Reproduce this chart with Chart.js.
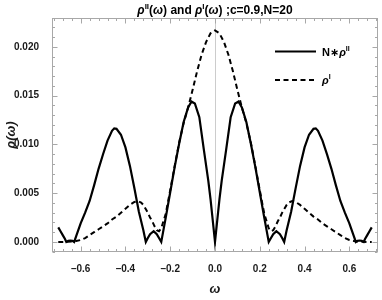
<!DOCTYPE html>
<html>
<head>
<meta charset="utf-8">
<script src="https://cdn.jsdelivr.net/npm/chart.js@4.4.0/dist/chart.umd.min.js"></script>
<style>
  html, body { margin: 0; padding: 0; background: #fff; }
</style>
</head>
<body>
<canvas id="canvas" width="382" height="300"></canvas>
<script>
"use strict"

/* N * rho^II (solid) */
let omegaII = [
    -0.70, -0.69, -0.68, -0.67, -0.664, -0.655, -0.646, -0.637, -0.629, -0.62,
    -0.60, -0.58, -0.56, -0.54, -0.52, -0.50, -0.48, -0.46, -0.45, -0.44,
    -0.42, -0.40, -0.38, -0.36, -0.34, -0.32, -0.309, -0.30, -0.29, -0.274,
    -0.26, -0.25, -0.24, -0.22, -0.20, -0.18, -0.16, -0.14, -0.12, -0.105,
    -0.09, -0.07, -0.05, -0.03, -0.02, -0.01, 0,
    0.01, 0.02, 0.03, 0.05, 0.07, 0.09, 0.105, 0.12, 0.14, 0.16,
    0.18, 0.20, 0.22, 0.24, 0.25, 0.26, 0.274, 0.29, 0.30, 0.309,
    0.32, 0.34, 0.36, 0.38, 0.40, 0.42, 0.44, 0.45, 0.46, 0.48,
    0.50, 0.52, 0.54, 0.56, 0.58, 0.60, 0.62, 0.629, 0.637, 0.646,
    0.655, 0.664, 0.67, 0.68, 0.69, 0.70
];
let nRhoII = [
    0.0015, 0.0011, 0.0007, 0.0003, 0, 0.00012, 0.00015, 0.00012, 0, 0.0006,
    0.0019, 0.0030, 0.0042, 0.0058, 0.0075, 0.0090, 0.0104, 0.0114, 0.01165, 0.0116,
    0.0110, 0.0097, 0.0078, 0.0055, 0.0031, 0.0012, 0, 0.0004, 0.0008, 0.0011,
    0.0008, 0.0004, 0, 0.0025, 0.0051, 0.0077, 0.0101, 0.0123, 0.0138, 0.0144,
    0.0142, 0.0128, 0.0095, 0.0063, 0.0044, 0.0022, 0,
    0.0022, 0.0044, 0.0063, 0.0095, 0.0128, 0.0142, 0.0144, 0.0138, 0.0123, 0.0101,
    0.0077, 0.0051, 0.0025, 0, 0.0004, 0.0008, 0.0011, 0.0008, 0.0004, 0,
    0.0012, 0.0031, 0.0055, 0.0078, 0.0097, 0.0110, 0.0116, 0.01165, 0.0114, 0.0104,
    0.0090, 0.0075, 0.0058, 0.0042, 0.0030, 0.0019, 0.0006, 0, 0.00012, 0.00015,
    0.00012, 0, 0.0003, 0.0007, 0.0011, 0.0015
];

/* rho^I (dashed) */
let omegaI = [
    -0.70, -0.68, -0.66, -0.64, -0.62, -0.60, -0.58, -0.56, -0.54, -0.52,
    -0.50, -0.48, -0.46, -0.44, -0.42, -0.40, -0.38, -0.36, -0.345, -0.33,
    -0.32, -0.31, -0.30, -0.29, -0.28, -0.27, -0.26, -0.25, -0.24, -0.22,
    -0.20, -0.18, -0.16, -0.14, -0.12, -0.10, -0.08, -0.06, -0.04, -0.02, 0,
    0.02, 0.04, 0.06, 0.08, 0.10, 0.12, 0.14, 0.16, 0.18, 0.20,
    0.22, 0.24, 0.25, 0.26, 0.27, 0.28, 0.29, 0.30, 0.31, 0.32,
    0.33, 0.345, 0.36, 0.38, 0.40, 0.42, 0.44, 0.46, 0.48, 0.50,
    0.52, 0.54, 0.56, 0.58, 0.60, 0.62, 0.64, 0.66, 0.68, 0.70
];
let rhoI = [
    0, 0, 0.00002, 0.00005, 0.0001, 0.0002, 0.0004, 0.0007, 0.0010, 0.0013,
    0.0016, 0.0019, 0.0023, 0.0026, 0.0030, 0.0034, 0.0038, 0.0041, 0.0042, 0.00405,
    0.0038, 0.0034, 0.0030, 0.0025, 0.0021, 0.0016, 0.0012, 0.0011, 0.0014, 0.0029,
    0.0053, 0.0078, 0.0102, 0.0122, 0.0138, 0.0156, 0.0175, 0.0192, 0.0205, 0.0214, 0.0217,
    0.0214, 0.0205, 0.0192, 0.0175, 0.0156, 0.0138, 0.0122, 0.0102, 0.0078, 0.0053,
    0.0029, 0.0014, 0.0011, 0.0012, 0.0016, 0.0021, 0.0025, 0.0030, 0.0034, 0.0038,
    0.00405, 0.0042, 0.0041, 0.0038, 0.0034, 0.0030, 0.0026, 0.0023, 0.0019, 0.0016,
    0.0013, 0.0010, 0.0007, 0.0004, 0.0002, 0.0001, 0.00005, 0.00002, 0, 0
];

/* Ticks */
let xTicks = [-0.6, -0.4, -0.2, 0, 0.2, 0.4, 0.6];
let xTickLabels = ["\u20130.6", "\u20130.4", "\u20130.2", "0.0", "0.2", "0.4", "0.6"];
let yTicks = [0, 0.005, 0.01, 0.015, 0.02];
let yTickLabels = ["0.000", "0.005", "0.010", "0.015", "0.020"];


/* Colors */
let black = "#000";
let frameGray = "#a8a8a8";
let axisGray = "#cccccc";
let labelColor = "#1a1a1a";

let fontFamily = "'Liberation Sans', Arial, 'DejaVu Sans', sans-serif";


function toPoints(xs, ys) {
    return xs.map((x, i) => ({ x: x, y: ys[i] }));
}

function labelFor(ticks, labels, v) {
    let i = ticks.findIndex(t => Math.abs(t - v) < 1e-9);
    return i < 0 ? "" : labels[i];
}

// draws text made of pieces: italic, superscript
function drawRich(ctx, parts, x, y, size, align) {
    let fontOf = p => (p.it ? "italic " : "") + "bold " +
        (p.sup ? Math.round(size * 0.66) : size) + "px " + fontFamily;
    let width = 0;
    parts.forEach(p => {
        ctx.font = fontOf(p);
        p.w = ctx.measureText(p.t).width;
        width += p.w;
    });
    let cx = align === "center" ? x - width / 2 : x;
    ctx.textAlign = "left";
    ctx.textBaseline = "alphabetic";
    parts.forEach(p => {
        ctx.font = fontOf(p);
        ctx.fillText(p.t, cx, p.sup ? y - size * 0.42 : y);
        cx += p.w;
    });
}

function minorValues(from, to, step) {
    let out = [];
    for (let v = from; v <= to + 1e-12; v += step) out.push(v);
    return out;
}


const framePlugin = {
    id: "frame",
    beforeDatasetsDraw(chart) {
        const { ctx, chartArea: a, scales: { x } } = chart;
        let x0 = Math.round(x.getPixelForValue(0)) + 0.5;
        ctx.save();
        ctx.strokeStyle = axisGray;
        ctx.lineWidth = 1;
        ctx.beginPath();
        ctx.moveTo(x0, a.top);
        ctx.lineTo(x0, a.bottom);
        ctx.stroke();
        ctx.restore();
    },
    afterDraw(chart) {
        const { ctx, chartArea: a, scales: { x, y } } = chart;
        ctx.save();
        ctx.strokeStyle = frameGray;
        ctx.lineWidth = 1;
        let L = Math.round(a.left) + 0.5, R = Math.round(a.right) - 0.5;
        let T = Math.round(a.top) + 0.5, B = Math.round(a.bottom) - 0.5;
        ctx.strokeRect(L, T, R - L, B - T);

        ctx.beginPath();
        let xMinor = minorValues(-0.72, 0.72, 0.04);
        xMinor.forEach(v => {
            let major = xTicks.some(t => Math.abs(t - v) < 1e-6);
            let len = major ? 5 : 2.5;
            let px = Math.round(x.getPixelForValue(v)) + 0.5;
            ctx.moveTo(px, B); ctx.lineTo(px, B - len);
            ctx.moveTo(px, T); ctx.lineTo(px, T + len);
        });
        let yMinor = minorValues(-0.001, 0.022, 0.001);
        yMinor.forEach(v => {
            let major = yTicks.some(t => Math.abs(t - v) < 1e-6);
            let len = major ? 5 : 2.5;
            let py = Math.round(y.getPixelForValue(v)) + 0.5;
            ctx.moveTo(L, py); ctx.lineTo(L + len, py);
            ctx.moveTo(R, py); ctx.lineTo(R - len, py);
        });
        ctx.stroke();

        // title
        ctx.fillStyle = black;
        drawRich(ctx, [
            { t: "\u03c1", it: true }, { t: "II", sup: true }, { t: "(" },
            { t: "\u03c9", it: true }, { t: ") and " },
            { t: "\u03c1", it: true }, { t: "I", sup: true }, { t: "(" },
            { t: "\u03c9", it: true }, { t: ") ;c=0.9,N=20" }
        ], (a.left + a.right) / 2, 14, 12, "center");

        // legend
        let ds = chart.data.datasets;
        let rows = [
            { y: 51.5, parts: [{ t: "N\u2217" }, { t: "\u03c1", it: true }, { t: "II", sup: true }] },
            { y: 80, parts: [{ t: "\u03c1", it: true }, { t: "I", sup: true }] }
        ];
        rows.forEach((row, i) => {
            ctx.strokeStyle = ds[i].borderColor;
            ctx.lineWidth = ds[i].borderWidth;
            ctx.setLineDash(ds[i].borderDash || []);
            ctx.beginPath();
            ctx.moveTo(275, row.y);
            ctx.lineTo(316, row.y);
            ctx.stroke();
            ctx.setLineDash([]);
            drawRich(ctx, row.parts, 322, row.y + 4, 11, "left");
        });
        ctx.restore();
    }
};


function createChart() {
    const canvas = document.getElementById("canvas").getContext("2d");
    const tickFont = { family: fontFamily, size: 10, weight: "bold" };
    new Chart(canvas, {
        type: "line",
        data: {
            datasets: [{
                label: "N*rho II",
                data: toPoints(omegaII, nRhoII),
                borderColor: black,
                borderWidth: 2.2,
                pointRadius: 0,
                tension: 0,
                fill: false
            }, {
                label: "rho I",
                data: toPoints(omegaI, rhoI),
                borderColor: black,
                borderWidth: 2,
                borderDash: [5, 3.5],
                pointRadius: 0,
                tension: 0,
                fill: false
            }]
        },
        options: {
            responsive: false,
            animation: false,
            devicePixelRatio: 1,
            layout: { padding: { top: 18, right: 4, left: 0, bottom: 0 } },
            scales: {
                x: {
                    type: "linear",
                    min: -0.728,
                    max: 0.728,
                    afterBuildTicks: s => { s.ticks = xTicks.map(v => ({ value: v })); },
                    afterFit: s => { s.height = 48; },
                    grid: { display: false },
                    border: { display: false },
                    ticks: {
                        autoSkip: false,
                        maxRotation: 0,
                        padding: 3,
                        color: labelColor,
                        font: tickFont,
                        callback: v => labelFor(xTicks, xTickLabels, v)
                    },
                    title: {
                        display: true,
                        text: "\u03c9",
                        color: labelColor,
                        padding: { top: 0, bottom: 3 },
                        font: { family: fontFamily, size: 13, style: "italic", weight: "bold" }
                    }
                },
                y: {
                    min: -0.00103,
                    max: 0.02297,
                    afterBuildTicks: s => { s.ticks = yTicks.map(v => ({ value: v })); },
                    afterFit: s => { s.width = 52; },
                    grid: { display: false },
                    border: { display: false },
                    ticks: {
                        padding: 5,
                        color: labelColor,
                        font: tickFont,
                        callback: v => labelFor(yTicks, yTickLabels, v)
                    },
                    title: {
                        display: true,
                        text: "\u03c1(\u03c9)",
                        color: labelColor,
                        padding: { top: 4, bottom: 0 },
                        font: { family: fontFamily, size: 13, style: "italic", weight: "bold" }
                    }
                }
            },
            plugins: {
                legend: { display: false },
                tooltip: { enabled: false },
                title: { display: false }
            }
        },
        plugins: [framePlugin]
    });
}

createChart();
</script>
</body>
</html>
